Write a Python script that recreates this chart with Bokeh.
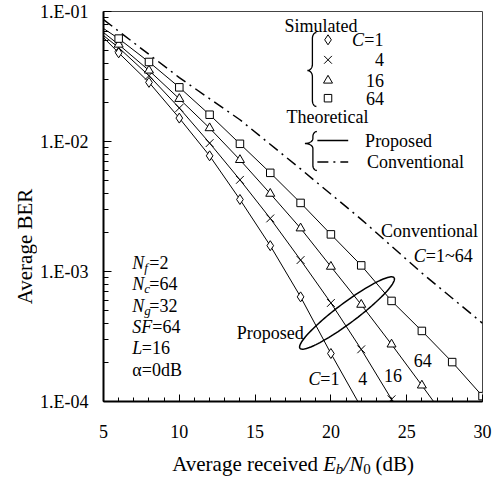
import math
from bokeh.plotting import figure
from bokeh.layouts import row, column
from bokeh.models import Range1d, FixedTicker, CustomJSTickFormatter, Label
from bokeh.embed import file_html
from bokeh.resources import INLINE

# ---------------- data ----------------
# simulated points (Eb/N0 in dB, average BER)
snr_c1 = [6, 8, 10, 12, 14, 16, 18, 20]
ber_c1 = [0.0481, 0.0285, 0.01514, 0.00776, 0.00358, 0.00158, 0.000638, 0.000234]
snr_c4 = [6, 8, 10, 12, 14, 16, 18, 20, 22, 24]
ber_c4 = [0.0527, 0.0321, 0.0181, 0.00972, 0.00507, 0.00256, 0.001225, 0.000573, 0.000252, 0.000104]
snr_c16 = [6, 8, 10, 12, 14, 16, 18, 20, 22, 24, 26]
ber_c16 = [0.0557, 0.0352, 0.0213, 0.01268, 0.00722, 0.00397, 0.00215, 0.00109, 0.000556, 0.000275, 0.000133]
snr_c64 = [6, 8, 10, 12, 14, 16, 18, 20, 22, 24, 26, 28, 30]
ber_c64 = [0.0619, 0.0409, 0.0261, 0.01607, 0.0096, 0.00574, 0.00337, 0.00193, 0.001114, 0.000594, 0.000349, 0.000201, 0.000110]

# theoretical curves (proposed)
th_snr_c1 = [5, 6, 8, 10, 12, 14, 16, 18, 20, 22]
th_ber_c1 = [0.063, 0.0481, 0.0285, 0.01514, 0.00776, 0.00358, 0.00158, 0.000638, 0.000234, 0.00009]
th_snr_c4 = [5, 6, 8, 10, 12, 14, 16, 18, 20, 22, 24, 24.5]
th_ber_c4 = [0.0653, 0.0527, 0.0321, 0.0181, 0.00972, 0.00507, 0.00256, 0.001225, 0.000573, 0.000252, 0.000104, 0.000083]
th_snr_c16 = [5, 6, 8, 10, 12, 14, 16, 18, 20, 22, 24, 26, 27]
th_ber_c16 = [0.0689, 0.0557, 0.0352, 0.0213, 0.01268, 0.00722, 0.00397, 0.00215, 0.00109, 0.000556, 0.000275, 0.000133, 0.000092]
th_snr_c64 = [5, 6, 8, 10, 12, 14, 16, 18, 20, 22, 24, 26, 28, 30]
th_ber_c64 = [0.074, 0.0619, 0.0409, 0.0261, 0.01607, 0.0096, 0.00574, 0.00337, 0.00193, 0.001114, 0.000594, 0.000349, 0.000201, 0.000110]

# theoretical curve (conventional, C = 1~64)
conv_snr = [5, 10, 14, 18, 22, 26, 30]
conv_ber = [0.0867, 0.031, 0.0147, 0.00615, 0.00252, 0.000973, 0.0004]

x_ticks = [5, 10, 15, 20, 25, 30]
y_ticks = [1e-4, 1e-3, 1e-2, 1e-1]
y_tick_labels = ["1.E-04", "1.E-03", "1.E-02", "1.E-01"]
legend_c = ["1", "4", "16", "64"]

# ---------------- layout geometry (page pixels) ----------------
LEFT_W = 37                 # strip holding the y-axis title
MAIN_W, MAIN_H = 461, 452
BOT_H = 479 - MAIN_H        # strip holding the x-axis title
MB_L, MB_R, MB_T, MB_B = 64, 16, 11, 51
FW = MAIN_W - MB_L - MB_R
FH = MAIN_H - MB_T - MB_B
FL, FT = LEFT_W + MB_L, MB_T   # frame origin in page pixels

FONT = "Liberation Serif"

p = figure(width=MAIN_W, height=MAIN_H, y_axis_type="log",
           x_range=Range1d(5, 30), y_range=Range1d(1e-4, 1e-1),
           output_backend="svg", toolbar_location=None,
           min_border_left=MB_L, min_border_right=MB_R,
           min_border_top=MB_T, min_border_bottom=MB_B)
p.background_fill_color = "white"
p.border_fill_color = "white"
p.outline_line_color = "#444444"
p.outline_line_width = 1
p.xgrid.visible = False
p.ygrid.visible = False

minor_y = [k * 10.0 ** e for e in (-4, -3, -2) for k in range(2, 10)]
p.yaxis.ticker = FixedTicker(ticks=y_ticks, minor_ticks=minor_y)
p.yaxis.formatter = CustomJSTickFormatter(args=dict(tvals=y_ticks, tlabs=y_tick_labels), code="""
let best = 0, bd = 1e9;
for (let i = 0; i < tvals.length; i++) {
  const d = Math.abs(Math.log10(tick) - Math.log10(tvals[i]));
  if (d < bd) { bd = d; best = i; }
}
return tlabs[best];
""")
p.xaxis.ticker = FixedTicker(ticks=x_ticks, minor_ticks=list(range(5, 31)))

for ax in (p.xaxis[0], p.yaxis[0]):
    ax.axis_line_width = 2
    ax.axis_line_color = "black"
    ax.major_tick_out = 0
    ax.minor_tick_out = 0
    ax.major_tick_line_color = "black"
    ax.minor_tick_line_color = "black"
    ax.major_label_text_font = FONT
    ax.major_label_text_font_size = "18px"
    ax.major_label_text_color = "black"

p.xaxis.major_tick_in = 7
p.xaxis.minor_tick_in = 4
p.yaxis.major_tick_in = 8
p.yaxis.minor_tick_in = 5
p.xaxis.major_label_standoff = 23
p.yaxis.major_label_standoff = 15


def X(px):
    return 5 + (px - FL) / FW * 25


def Y(py):
    return 10 ** (-1 - 3 * (py - FT) / FH)


def txt(px, py, s, size=18, style="normal", align="left"):
    p.add_layout(Label(x=X(px), y=Y(py), text=s, text_font=FONT,
                       text_font_size=f"{size}px", text_font_style=style,
                       text_align=align, text_baseline="middle", text_color="black"))


DASHDOT = "11 5 2 5"

# ---------------- series ----------------
p.line(conv_snr, conv_ber, line_color="black", line_width=1.5, line_dash=DASHDOT)
for xs, ys in ((th_snr_c1, th_ber_c1), (th_snr_c4, th_ber_c4),
               (th_snr_c16, th_ber_c16), (th_snr_c64, th_ber_c64)):
    p.line(xs, ys, line_color="black", line_width=1)

MK = dict(line_color="black", line_width=1, fill_color="white")
SIZES = {"diamond": 10, "x": 11, "triangle": 9, "square": 7.5}
p.scatter(snr_c1, ber_c1, marker="diamond", size=SIZES["diamond"], **MK)
p.scatter(snr_c4, ber_c4, marker="x", size=SIZES["x"], **MK)
p.scatter(snr_c16, ber_c16, marker="triangle", size=SIZES["triangle"], **MK)
p.scatter(snr_c64, ber_c64, marker="square", size=SIZES["square"], **MK)

# ---------------- legend (hand drawn like the original) ----------------
def brace(xs, y0, y1, ym, w=4, d=4, r=6):
    pts = []
    def arc(cx, cy, rx, ry, a0, a1, n=10):
        for i in range(n + 1):
            a = math.radians(a0 + (a1 - a0) * i / n)
            pts.append((cx + rx * math.cos(a), cy + ry * math.sin(a)))
    arc(xs + w, y0 + r, w, r, -90, -180)
    arc(xs - d, ym - r, d, r, 0, 90)
    arc(xs - d, ym + r, d, r, -90, 0)
    arc(xs + w, y1 - r, w, r, 180, 90)
    p.line([X(a) for a, _ in pts], [Y(b) for _, b in pts], line_color="black", line_width=1.3)


txt(283, 25, "Simulated")
brace(311, 32, 106, 70, w=4, d=5, r=6)
leg_y = [39.3, 59.3, 80, 97.7]
for m, yy in zip(["diamond", "x", "triangle", "square"], leg_y):
    p.scatter([X(326.7)], [Y(yy)], marker=m, size=SIZES[m], **MK)
txt(363, leg_y[0], "C", style="italic", align="right")
txt(382.5, leg_y[0], "=" + legend_c[0], align="right")
for c, yy in zip(legend_c[1:], leg_y[1:]):
    txt(383, yy, c, align="right")

txt(285, 116.5, "Theoretical")
brace(311.5, 131, 170, 143, w=4, d=8, r=5)
p.line([X(316), X(347)], [Y(140), Y(140)], line_color="black", line_width=1.5)
p.line([X(316), X(347)], [Y(161.5), Y(161.5)], line_color="black", line_width=1.5, line_dash=DASHDOT)
txt(364, 140, "Proposed")
txt(366, 161.5, "Conventional")

# annotation for conventional curve
txt(380, 230, "Conventional")
txt(413, 255, "C", style="italic")
txt(425, 255, "=1~64")

# proposed ellipse annotation
cx, cy, a_, b_, th = 345.8, 312.5, 59, 10, math.radians(36.7)
ex, ey = [], []
for i in range(121):
    t = 2 * math.pi * i / 120
    px = cx + a_ * math.cos(t) * math.cos(th) + b_ * math.sin(t) * math.sin(th)
    py = cy - a_ * math.cos(t) * math.sin(th) + b_ * math.sin(t) * math.cos(th)
    ex.append(X(px)); ey.append(Y(py))
p.line(ex, ey, line_color="black", line_width=1.5)
txt(235, 332, "Proposed")

# C labels at the bottom of the curves
txt(307, 378, "C", style="italic")
txt(319, 378, "=" + legend_c[0])
txt(357, 378, legend_c[1])
txt(383, 375, legend_c[2])
txt(413, 360, legend_c[3])

# parameter block
rows = [262, 283, 305, 326, 347, 369]
for yy, sub, val in zip(rows[:3], ["f", "c", "g"], ["=2", "=64", "=32"]):
    txt(130, yy, "N", style="italic")
    txt(142, yy + 5, sub, size=13, style="italic")
    txt(147, yy, val)
txt(130, rows[3], "SF", style="italic")
txt(150, rows[3], "=64")
txt(130, rows[4], "L", style="italic")
txt(139.5, rows[4], "=16")
txt(130, rows[5], "\u03b1=0dB")


# ---------------- side strips for the axis titles ----------------
def strip(w, h, xr, yr, bl=0, br=0):
    s = figure(width=w, height=h, x_range=Range1d(*xr), y_range=Range1d(*yr),
               output_backend="svg", toolbar_location=None,
               x_axis_location=None, y_axis_location=None,
               min_border=0, min_border_left=bl, min_border_right=br,
               min_border_top=0, min_border_bottom=0)
    s.outline_line_color = None
    s.xgrid.visible = False
    s.ygrid.visible = False
    s.background_fill_color = "white"
    s.border_fill_color = "white"
    return s


pl = strip(LEFT_W, 479, (0, LEFT_W), (479, 0))
pl.add_layout(Label(x=24, y=246, text="Average BER", angle=math.pi / 2,
                    text_font=FONT, text_font_size="21px", text_align="center",
                    text_baseline="middle", text_color="black"))

# bottom strip: frame lined up with the main frame, x in page pixels
pb = strip(MAIN_W, BOT_H, (FL, FL + FW), (MAIN_H + BOT_H, MAIN_H), bl=MB_L, br=MB_R)
TY = 463


def btxt(px, dy, s, size=21, style="normal"):
    pb.add_layout(Label(x=px, y=TY + dy, text=s, text_font=FONT,
                        text_font_size=f"{size}px", text_font_style=style,
                        text_align="left", text_baseline="middle", text_color="black"))


btxt(170, 0, "Average received")
btxt(322, 0, "E", style="italic")
btxt(334.6, 5, "b", size=15, style="italic")
btxt(342.2, 0, "/", style="italic")
btxt(348.2, 0, "N", style="italic")
btxt(362.2, 5, "0", size=15)
btxt(374.5, 0, "(dB)")

layout = row(pl, column(p, pb, spacing=0), spacing=0)
open("out.html", "w").write(file_html(layout, INLINE))
